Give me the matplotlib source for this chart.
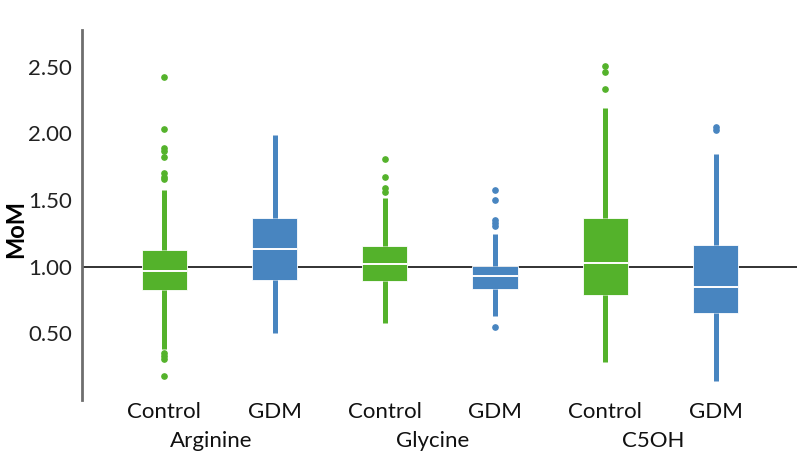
import matplotlib
matplotlib.use("Agg")
import matplotlib.pyplot as plt
import matplotlib.transforms as mtransforms

plt.rcParams['font.family'] = ['Lato', 'DejaVu Sans']

groups = ["Arginine", "Glycine", "C5OH"]
labels = ["Control", "GDM", "Control", "GDM", "Control", "GDM"]

# box statistics
q1 = [0.822, 0.897, 0.890, 0.835, 0.785, 0.653]
med = [0.968, 1.135, 1.022, 0.927, 1.025, 0.850]
q3 = [1.127, 1.369, 1.152, 1.007, 1.369, 1.160]
whislo = [0.383, 0.503, 0.578, 0.628, 0.286, 0.141]
whishi = [1.577, 1.989, 1.514, 1.245, 2.189, 1.846]
fliers = [
    [2.425, 2.034, 1.889, 1.871, 1.819, 1.706, 1.676, 1.657, 0.353, 0.328, 0.309, 0.178],
    [],
    [1.809, 1.674, 1.589, 1.564],
    [1.574, 1.504, 1.350, 1.327, 1.309, 0.545],
    [2.506, 2.463, 2.333],
    [2.051, 2.026],
]

green = "#54b22b"
blue = "#4885c0"
colors = [green, blue] * 3

fig, ax = plt.subplots(figsize=(8, 4.61), dpi=100)
fig.subplots_adjust(left=0.1025, right=0.996, top=0.935, bottom=0.132)

stats = []
for i in range(6):
    stats.append(dict(med=med[i], q1=q1[i], q3=q3[i], whislo=whislo[i],
                      whishi=whishi[i], fliers=fliers[i]))

positions = [1, 2, 3, 4, 5, 6]
ax.axhline(1.0, color="#222222", lw=1.3, zorder=1)

for i in range(6):
    c = colors[i]
    ax.bxp([stats[i]], positions=[positions[i]], widths=0.41, patch_artist=True,
           showcaps=False,
           boxprops=dict(facecolor=c, edgecolor="white", linewidth=0.6),
           medianprops=dict(color="white", linewidth=1.4),
           whiskerprops=dict(color=c, linewidth=3.6, solid_capstyle="butt"),
           flierprops=dict(marker="o", markerfacecolor=c, markeredgecolor=c,
                           markersize=3.8, linestyle="none"),
           zorder=2)

ax.set_xlim(0.254, 6.737)
ax.set_ylim(0, 2.775)
ax.set_yticks([0.5, 1.0, 1.5, 2.0, 2.5])
ax.set_yticklabels(["0.50", "1.00", "1.50", "2.00", "2.50"], fontsize=16, color="#222222")
ax.set_xticks(positions)
ax.set_xticklabels(labels, fontsize=16, color="#111111")
ax.tick_params(axis="both", length=0)
ax.tick_params(axis="x", pad=1)
ax.tick_params(axis="y", pad=7)

for s in ["top", "right", "bottom"]:
    ax.spines[s].set_visible(False)
ax.spines["left"].set_color("#6e6e6e")
ax.spines["left"].set_linewidth(2)

ax.set_ylabel("MoM", fontsize=17, fontweight="bold")
ax.yaxis.set_label_coords(-0.077, 0.4635)

trans = mtransforms.blended_transform_factory(ax.transData, ax.transAxes)
for j, g in enumerate(groups):
    ax.text(2 * j + 1.5 - 0.07, -0.127, g, transform=trans, ha="center", va="baseline",
            fontsize=16, color="#111111")

plt.savefig("out.png", dpi=100)
